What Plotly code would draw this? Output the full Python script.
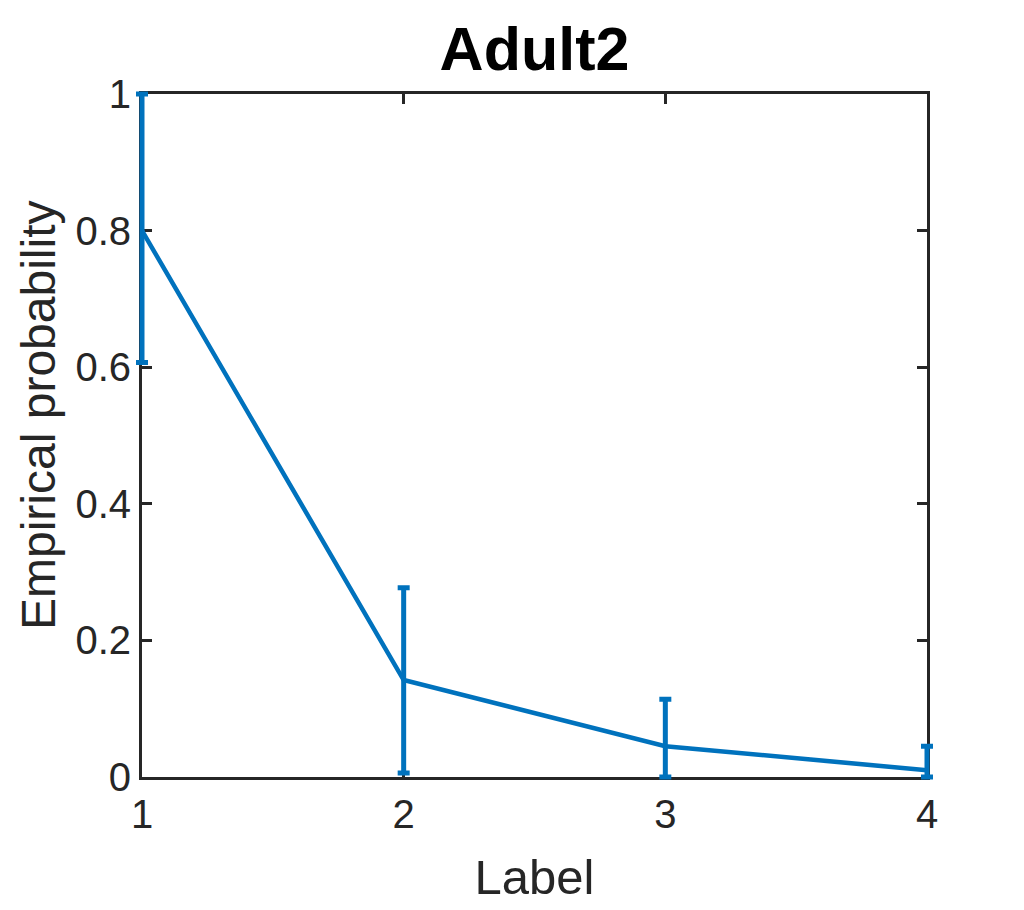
import plotly.graph_objects as go

labels = [1, 2, 3, 4]
prob = [0.80, 0.142, 0.045, 0.010]
err_plus = [0.20, 0.135, 0.069, 0.035]
err_minus = [0.193, 0.136, 0.045, 0.010]

x_ticks = [1, 2, 3, 4]
y_ticks = [0, 0.2, 0.4, 0.6, 0.8, 1]
y_ticktext = ["0", "0.2", "0.4", "0.6", "0.8", "1"]

blue = "#0072BD"
axc = "#262626"
ff = "Liberation Sans, Arial, sans-serif"

# geometry (pixels) of the visible axes box and padding for unclipped error bars
PW, PH = 785.0, 683.0
padx, pady = 15.0, 12.0
OW, OH = PW + 2 * padx, PH + 2 * pady
xr = [1, 4]
yr = [0, 1]
xpu = PW / (xr[1] - xr[0])
ypu = PH / (yr[1] - yr[0])

fig = go.Figure()
# visible axes frame (empty trace)
fig.add_trace(go.Scatter(x=[None], y=[None], xaxis="x", yaxis="y", showlegend=False,
                         hoverinfo="skip"))
# data on padded, invisible axes so caps are not clipped
fig.add_trace(go.Scatter(
    x=labels, y=prob, mode="lines", xaxis="x2", yaxis="y2",
    line=dict(color=blue, width=4.5),
    error_y=dict(type="data", symmetric=False, array=err_plus, arrayminus=err_minus,
                 color=blue, thickness=5, width=6),
    cliponaxis=False, showlegend=False,
))

fig.update_layout(
    width=1016, height=902,
    margin=dict(l=119, r=82, t=74, b=121),
    paper_bgcolor="white", plot_bgcolor="rgba(0,0,0,0)",
    font=dict(family=ff, color=axc),
    title=dict(text="<b>Adult2</b>", x=0.5, xanchor="center", xref="paper",
               y=1 - 41 / 902, yanchor="middle",
               font=dict(size=61, color="black", family=ff)),
    xaxis=dict(
        domain=[padx / OW, 1 - padx / OW], anchor="y",
        range=xr, tickvals=x_ticks, ticks="inside", ticklen=10, tickwidth=2.5, tickcolor=axc,
        showline=True, linecolor=axc, linewidth=3, mirror="ticks", showgrid=False, zeroline=False,
        tickfont=dict(size=40, color=axc),
        title=dict(text="Label", font=dict(size=49, color=axc), standoff=25),
    ),
    yaxis=dict(
        domain=[pady / OH, 1 - pady / OH], anchor="x",
        range=yr, tickvals=y_ticks, ticktext=y_ticktext, ticks="inside", ticklen=10, tickwidth=2.5,
        tickcolor=axc, showline=True, linecolor=axc, linewidth=3, mirror="ticks", showgrid=False,
        zeroline=False, tickfont=dict(size=40, color=axc),
    ),
    xaxis2=dict(domain=[0, 1], anchor="y2", range=[xr[0] - padx / xpu, xr[1] + padx / xpu],
                visible=False, showgrid=False, zeroline=False),
    yaxis2=dict(domain=[0, 1], anchor="x2", range=[yr[0] - pady / ypu, yr[1] + pady / ypu],
                visible=False, showgrid=False, zeroline=False),
    annotations=[dict(
        text="Empirical probability", textangle=-90, showarrow=False,
        xref="paper", yref="paper", x=(38 - 127) / OW, y=(789 - 415) / OH,
        xanchor="center", yanchor="middle", font=dict(size=48, color=axc, family=ff),
    )],
)

fig.write_html("out.html")
